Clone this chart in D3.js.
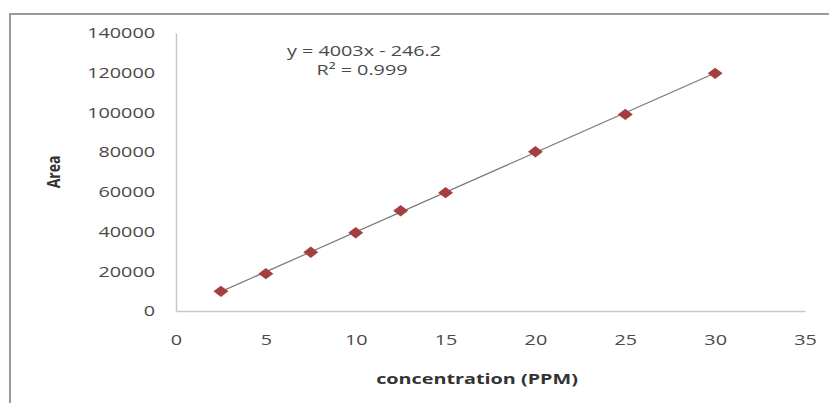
<!DOCTYPE html>
<html>
<head>
<meta charset="utf-8">
<script src="https://cdn.jsdelivr.net/npm/d3@7"></script>
<style>
  body { margin: 0; background: #fff; }
  text { font-family: "Open Sans", "DejaVu Sans", sans-serif; }
</style>
</head>
<body>
<script>
var concentration = [2.5, 5, 7.5, 10, 12.5, 15, 20, 25, 30];
var area = [9900, 18800, 29600, 39400, 50500, 59600, 80200, 99000, 119700];
var xTicks = [0, 5, 10, 15, 20, 25, 30, 35];
var yTicks = [0, 20000, 40000, 60000, 80000, 100000, 120000, 140000];
var slope = 4003, intercept = -246.2;

var width = 829, height = 403;
var stretch = 1.32; // the picture is wider than it is tall, text too

var svg = d3.select("body").append("svg").attr("width", width).attr("height", height);

// widen a text element around its own x
function widen(sel) {
  sel.each(function(){
    var t = d3.select(this);
    var x0 = +t.attr("x") || 0;
    t.attr("transform", "translate(" + (x0 * (1 - stretch)) + ",0) scale(" + stretch + ",1)");
  });
}

// chart frame (only top and left edges fall inside the picture)
svg.append("path")
  .attr("d", "M10,403 V14 H829")
  .attr("fill", "none")
  .attr("stroke", "#9a9a9a")
  .attr("stroke-width", 2);

var x = d3.scaleLinear().domain([0, 35]).range([176, 805]);
var y = d3.scaleLinear().domain([0, 140000]).range([311, 33]);

var xAxis = svg.append("g").attr("transform", "translate(0," + y(0) + ")")
  .call(d3.axisBottom(x).tickValues(xTicks).tickSize(0).tickPadding(23));
var yAxis = svg.append("g").attr("transform", "translate(" + x(0) + ",0)")
  .call(d3.axisLeft(y).tickValues(yTicks).tickSize(0).tickPadding(21).tickFormat(d3.format("d")));

[xAxis, yAxis].forEach(function(g){
  g.select(".domain").attr("stroke", "#c8c8c8").attr("stroke-width", 1.5);
  g.selectAll("text").attr("font-size", 15).attr("fill", "#4a4a4a").call(widen);
});

// trendline
svg.append("line")
  .attr("x1", x(concentration[0])).attr("y1", y(slope * concentration[0] + intercept))
  .attr("x2", x(concentration[concentration.length-1]))
  .attr("y2", y(slope * concentration[concentration.length-1] + intercept))
  .attr("stroke", "#7a7a7a").attr("stroke-width", 1.2);

// diamond markers (rotated squares, widened like the rest)
svg.selectAll(".pt")
  .data(concentration)
  .enter()
  .append("path")
  .attr("class", "pt")
  .attr("d", d3.symbol().type(d3.symbolSquare).size(64))
  .attr("transform", function(d, i){
    return "translate(" + x(d) + "," + y(area[i]) + ") scale(" + stretch + ",1) rotate(45)";
  })
  .attr("fill", "#a43f3f");

svg.append("text")
  .attr("x", 364).attr("y", 56)
  .attr("text-anchor", "middle").attr("font-size", 15).attr("fill", "#4a4a4a")
  .text("y = 4003x - 246.2").call(widen);
svg.append("text")
  .attr("x", 362).attr("y", 75)
  .attr("text-anchor", "middle").attr("font-size", 15).attr("fill", "#4a4a4a")
  .text("R² = 0.999").call(widen);

svg.append("text")
  .attr("x", 477).attr("y", 384)
  .attr("text-anchor", "middle").attr("font-size", 15).attr("font-weight", "bold").attr("fill", "#333")
  .text("concentration (PPM)").call(widen);
svg.append("text")
  .attr("transform", "translate(60,172) rotate(-90) scale(1," + stretch + ")")
  .attr("text-anchor", "middle").attr("font-size", 14).attr("font-weight", "bold").attr("fill", "#333")
  .text("Area");
</script>
</body>
</html>
